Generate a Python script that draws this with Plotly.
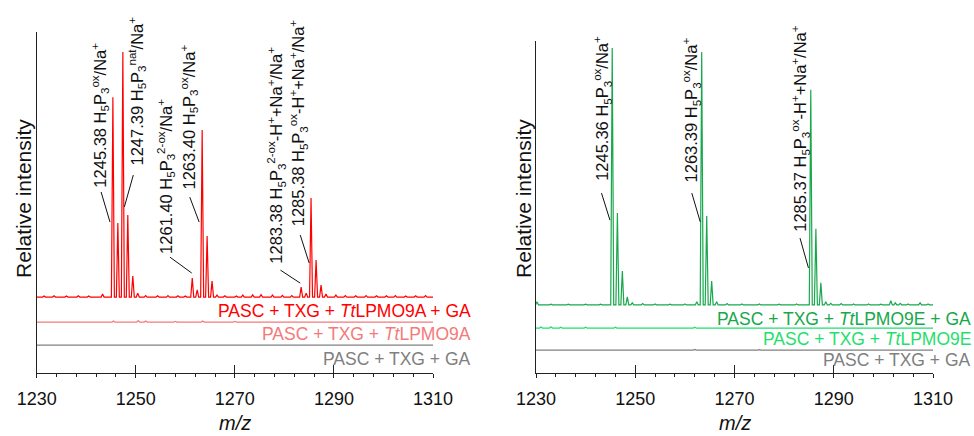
import plotly.graph_objects as go

# ---------------- data ----------------
# Left panel (TtLPMO9A), relative intensity (% of max peak)
left_ga_mz = [1231.5, 1233.5, 1236.0, 1238.4, 1240.5, 1243.3, 1245.38, 1246.38, 1247.39, 1248.39,
              1249.40, 1250.40, 1252.0, 1254.4, 1256.5, 1258.5, 1260.0, 1261.40, 1262.40, 1263.40,
              1264.40, 1265.40, 1266.40, 1268.0, 1270.3, 1271.6, 1273.6, 1275.3, 1277.6, 1279.6,
              1281.5, 1283.38, 1284.40, 1285.38, 1286.40, 1287.40, 1288.40, 1290.4, 1292.3, 1294.4,
              1296.5, 1298.6, 1300.6, 1302.4, 1304.5, 1306.5, 1308.5]
left_ga_int = [0.4, 0.5, 0.4, 0.5, 0.4, 1.2, 81.6, 30.2, 100.0, 33.5,
               8.6, 1.6, 0.6, 0.5, 0.6, 0.5, 0.4, 7.8, 2.9, 68.2,
               24.9, 6.5, 0.8, 0.5, 0.4, 0.8, 0.9, 1.0, 0.8, 0.7,
               0.6, 4.1, 1.6, 40.4, 15.1, 4.9, 1.2, 0.8, 0.6, 0.5,
               0.6, 0.5, 0.5, 0.6, 0.4, 0.5, 0.6]
left_lpmo_mz = [1234.0, 1240.0, 1245.5, 1250.5, 1252.0, 1258.0, 1263.5, 1270.0, 1276.0, 1285.5, 1295.0, 1303.0]
left_lpmo_int = [0.3, 0.3, 0.4, 0.6, 0.4, 0.3, 0.4, 0.3, 0.3, 0.3, 0.2, 0.2]
left_ctrl_mz = [1236.0, 1248.0, 1256.0, 1265.0, 1280.0, 1292.0, 1304.0]
left_ctrl_int = [0.2, 0.3, 0.2, 0.3, 0.2, 0.2, 0.2]

# Right panel (TtLPMO9E)
right_ga_mz = [1230.2, 1233.0, 1236.5, 1240.0, 1243.0, 1245.36, 1246.40, 1247.40, 1248.40, 1249.40,
               1251.5, 1254.0, 1257.0, 1260.0, 1262.40, 1263.39, 1264.40, 1265.40, 1266.40, 1268.5,
               1271.5, 1275.0, 1279.0, 1282.5, 1285.37, 1286.40, 1287.40, 1288.40, 1289.40, 1291.5,
               1294.0, 1297.0, 1299.5, 1301.50, 1302.40, 1303.40, 1305.0, 1307.40, 1309.0]
right_ga_int = [1.2, 0.3, 0.3, 0.3, 0.3, 100.0, 35.8, 13.2, 3.1, 0.8,
                0.5, 0.4, 0.3, 0.4, 1.2, 98.4, 34.6, 9.3, 1.2, 0.5,
                0.4, 0.4, 0.3, 0.4, 83.7, 29.6, 8.6, 1.2, 0.6, 0.5,
                0.4, 0.4, 0.3, 1.6, 0.8, 0.6, 0.4, 0.8, 0.4]
right_lpmo_mz = [1231.0, 1233.0, 1235.0, 1240.0, 1246.0, 1262.0, 1270.0, 1280.0, 1290.0, 1300.0]
right_lpmo_int = [0.4, 0.5, 0.3, 0.3, 0.3, 0.3, 0.2, 0.2, 0.2, 0.2]
right_ctrl_mz = [1238.0, 1250.0, 1262.0, 1275.0, 1288.0, 1300.0]
right_ctrl_int = [0.2, 0.2, 0.3, 0.2, 0.2, 0.2]

x_ticks = [1230, 1250, 1270, 1290, 1310]

left_names = ["PASC + TXG + <i>Tt</i>LPMO9A + GA", "PASC + TXG + <i>Tt</i>LPMO9A", "PASC + TXG + GA"]
right_names = ["PASC + TXG + <i>Tt</i>LPMO9E + GA", "PASC + TXG + <i>Tt</i>LPMO9E", "PASC + TXG + GA"]

left_labels = [
    "1245.38 H<sub>5</sub>P<sub>3</sub><sup>ox</sup>/Na<sup>+</sup>",
    "1247.39 H<sub>5</sub>P<sub>3</sub><sup>nat</sup>/Na<sup>+</sup>",
    "1261.40 H<sub>5</sub>P<sub>3</sub><sup>2-ox</sup>/Na<sup>+</sup>",
    "1263.40 H<sub>5</sub>P<sub>3</sub><sup>ox</sup>/Na<sup>+</sup>",
    "1283.38 H<sub>5</sub>P<sub>3</sub><sup>2-ox</sup>-H<sup>+</sup>+Na<sup>+</sup>/Na<sup>+</sup>",
    "1285.38 H<sub>5</sub>P<sub>3</sub><sup>ox</sup>-H<sup>+</sup>+Na<sup>+</sup>/Na<sup>+</sup>",
]
right_labels = [
    "1245.36 H<sub>5</sub>P<sub>3</sub><sup>ox</sup>/Na<sup>+</sup>",
    "1263.39 H<sub>5</sub>P<sub>3</sub><sup>ox</sup>/Na<sup>+</sup>",
    "1285.37 H<sub>5</sub>P<sub>3</sub><sup>ox</sup>-H<sup>+</sup>+Na<sup>+</sup>/Na<sup>+</sup>",
]

# ---------------- layout constants ----------------
W, H = 974, 436
FONT = "Liberation Sans, Arial, sans-serif"
left_colors = ["#ff0000", "#f47a7a", "#808080"]
right_colors = ["#17a84c", "#1fe06c", "#808080"]
left_offsets = [31.0, 20.8, 11.4]
right_offsets = [26.5, 17.5, 8.9]
left_ymax = 139.2
right_ymax = 129.2
HW = 0.3
LABEL_SIZE = 16.5

# label anchor (bottom-centre) positions and leader lines, in data units
left_label_pos = [(1242.6, 74.7), (1250.2, 84.0), (1256.1, 48.0), (1260.8, 74.0), (1278.3, 44.0), (1282.8, 59.0)]
left_leaders = [((1243.0, 73.9), (1244.8, 61.6)), ((1249.5, 80.8), (1247.7, 67.8)),
                ((1256.9, 47.3), (1261.3, 40.8)), ((1260.9, 71.8), (1262.8, 61.6)),
                ((1279.2, 42.0), (1283.2, 36.7)), ((1283.2, 56.3), (1285.0, 44.9))]
right_label_pos = [(1243.4, 74.0), (1261.2, 73.5), (1283.2, 54.0)]
right_leaders = [((1243.2, 70.0), (1244.9, 59.5)), ((1261.4, 70.0), (1263.1, 58.8)),
                 ((1283.2, 52.5), (1284.9, 40.9))]
# sample-name positions in pixels (right edge x, centre y)
left_name_px = [(473, 311), (473, 334), (473, 359)]
right_name_px = [(973, 319), (973, 339), (973, 360)]


def spectrum(mz, inten, offset, x0=1230.0, x1=1310.4):
    xs, ys = [x0], [offset]
    for m, h in sorted(zip(mz, inten)):
        xs += [m - HW, m, m + HW]
        ys += [offset, offset + h, offset]
    xs.append(x1)
    ys.append(offset)
    return xs, ys


fig = go.Figure()

left_sets = [(left_ga_mz, left_ga_int), (left_lpmo_mz, left_lpmo_int), (left_ctrl_mz, left_ctrl_int)]
right_sets = [(right_ga_mz, right_ga_int), (right_lpmo_mz, right_lpmo_int), (right_ctrl_mz, right_ctrl_int)]

for (mz, it), off, col in zip(left_sets, left_offsets, left_colors):
    xs, ys = spectrum(mz, it, off)
    fig.add_trace(go.Scatter(x=xs, y=ys, mode="lines", line=dict(color=col, width=1.2),
                             xaxis="x", yaxis="y", showlegend=False, hoverinfo="skip"))
for (mz, it), off, col in zip(right_sets, right_offsets, right_colors):
    xs, ys = spectrum(mz, it, off)
    fig.add_trace(go.Scatter(x=xs, y=ys, mode="lines", line=dict(color=col, width=1.2),
                             xaxis="x2", yaxis="y2", showlegend=False, hoverinfo="skip"))

# dummy traces for overlay tick axes
fig.add_trace(go.Scatter(x=[None], y=[None], xaxis="x3", yaxis="y", showlegend=False))
fig.add_trace(go.Scatter(x=[None], y=[None], xaxis="x4", yaxis="y2", showlegend=False))

ax_common = dict(range=[1230, 1310], showline=True, linecolor="#222", linewidth=1.4,
                 showgrid=False, zeroline=False, tickmode="array", tickvals=x_ticks,
                 ticks="outside", ticklen=4, tickwidth=1.4, tickcolor="#222", automargin=False,
                 tickfont=dict(family=FONT, size=18, color="#111"), ticklabelstandoff=5,
                 minor=dict(ticks="outside", ticklen=3, dtick=4, tick0=1230, tickcolor="#222", tickwidth=1.2))
ov_common = dict(range=[1230, 1310], showline=False, showgrid=False, zeroline=False, automargin=False,
                 tickmode="array", tickvals=x_ticks, ticks="inside", ticklen=8, tickwidth=1.4,
                 tickcolor="#222", showticklabels=False)
y_common = dict(showline=True, linecolor="#222", linewidth=1.4, showgrid=False, zeroline=False,
                ticks="", showticklabels=False, automargin=False)

fig.update_layout(
    width=W, height=H,
    margin=dict(l=0, r=0, t=0, b=0, pad=0),
    paper_bgcolor="white", plot_bgcolor="white",
    xaxis=dict(domain=[36.7 / W, 433 / W], anchor="y", **ax_common),
    xaxis2=dict(domain=[536 / W, 933 / W], anchor="y2", **ax_common),
    xaxis3=dict(overlaying="x", anchor="y", **ov_common),
    xaxis4=dict(overlaying="x2", anchor="y2", **ov_common),
    yaxis=dict(domain=[(H - 373) / H, (H - 32) / H], anchor="x", range=[0, left_ymax], **y_common),
    yaxis2=dict(domain=[(H - 373) / H, (H - 41) / H], anchor="x2", range=[0, right_ymax], **y_common),
)

ann = []
# peak labels
for txt, (x, y) in zip(left_labels, left_label_pos):
    ann.append(dict(x=x, y=y, xref="x", yref="y", text=txt, textangle=-90, showarrow=False,
                    xanchor="center", yanchor="bottom", font=dict(family=FONT, size=LABEL_SIZE, color="#111")))
for txt, (x, y) in zip(right_labels, right_label_pos):
    ann.append(dict(x=x, y=y, xref="x2", yref="y2", text=txt, textangle=-90, showarrow=False,
                    xanchor="center", yanchor="bottom", font=dict(family=FONT, size=LABEL_SIZE, color="#111")))
# sample names
for txt, (px, py), col in zip(left_names, left_name_px, left_colors):
    ann.append(dict(x=px / W, y=(H - py) / H, xref="paper", yref="paper", text=txt, showarrow=False,
                    xanchor="right", yanchor="middle", font=dict(family=FONT, size=17.5, color=col)))
for txt, (px, py), col in zip(right_names, right_name_px, right_colors):
    ann.append(dict(x=px / W, y=(H - py) / H, xref="paper", yref="paper", text=txt, showarrow=False,
                    xanchor="right", yanchor="middle", font=dict(family=FONT, size=17.5, color=col)))
# axis titles
for xp in [23 / W, 523 / W]:
    ann.append(dict(x=xp, y=(H - 199) / H, xref="paper", yref="paper", text="Relative intensity",
                    textangle=-90, showarrow=False, xanchor="center", yanchor="middle",
                    font=dict(family=FONT, size=21, color="#111")))
for xp in [235 / W, 734.5 / W]:
    ann.append(dict(x=xp, y=(H - 423) / H, xref="paper", yref="paper", text="<i>m/z</i>",
                    showarrow=False, xanchor="center", yanchor="middle",
                    font=dict(family=FONT, size=20, color="#111")))
fig.update_layout(annotations=ann)

shapes = []
for (p0, p1) in left_leaders:
    shapes.append(dict(type="line", xref="x", yref="y", x0=p0[0], y0=p0[1], x1=p1[0], y1=p1[1],
                       line=dict(color="#111", width=1)))
for (p0, p1) in right_leaders:
    shapes.append(dict(type="line", xref="x2", yref="y2", x0=p0[0], y0=p0[1], x1=p1[0], y1=p1[1],
                       line=dict(color="#111", width=1)))
fig.update_layout(shapes=shapes)

fig.write_html("out.html", config={"displayModeBar": False},
               post_script="document.body.style.margin='0';document.body.style.overflow='hidden';")
